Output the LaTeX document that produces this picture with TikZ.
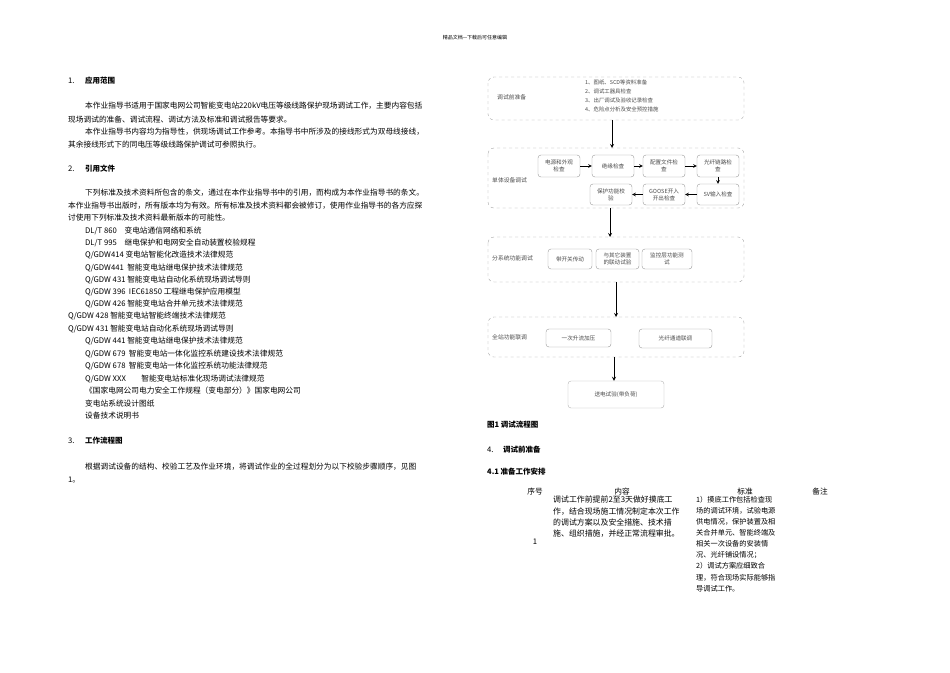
\documentclass[tikz,border=0pt]{standalone}
\usepackage{fontspec}
\setmainfont{Noto Sans CJK SC}
\begin{document}
\begin{tikzpicture}[x=1pt,y=-1pt,
  txt/.style={anchor=west,inner sep=0pt,font=\fontsize{7.7}{9}\selectfont},
  hd/.style={anchor=west,inner sep=0pt,font=\fontsize{7.5}{9}\selectfont\bfseries},
  grp/.style={draw=gray!70,dashed,rounded corners=6pt},
  sub/.style={draw=gray!80,rounded corners=3pt,align=center,inner sep=0pt,font=\fontsize{5.6}{7}\selectfont,text=gray!60!black},
  glab/.style={anchor=west,inner sep=0pt,font=\fontsize{5.8}{7}\selectfont,text=gray!60!black},
  arr/.style={-stealth,thick},
  sarr/.style={-stealth,semithick}]
\useasboundingbox (0,0) rectangle (950,672);
\fill[white] (0,0) rectangle (950,672);
\node[inner sep=0pt,font=\fontsize{5}{6}\selectfont] (hdr) at (475,38) {精品文档---下载后可任意编辑};
% left column
\node[txt] (n1) at (68,81) {1.};
\node[hd] (h1) at (85,81) {应用范围};
\node[txt] (p1a) at (85,106) {本作业指导书适用于国家电网公司智能变电站220kV电压等级线路保护现场调试工作，主要内容包括};
\node[txt] (p1b) at (68,120) {现场调试的准备、调试流程、调试方法及标准和调试报告等要求。};
\node[txt] (p1c) at (85,132) {本作业指导书内容均为指导性，供现场调试工作参考。本指导书中所涉及的接线形式为双母线接线，};
\node[txt] (p1d) at (68,145) {其余接线形式下的同电压等级线路保护调试可参照执行。};
\node[txt] (n2) at (68,169) {2.};
\node[hd] (h2) at (85,169) {引用文件};
\node[txt] (p2a) at (85,193) {下列标准及技术资料所包含的条文，通过在本作业指导书中的引用，而构成为本作业指导书的条文。};
\node[txt] (p2b) at (68,206) {本作业指导书出版时，所有版本均为有效。所有标准及技术资料都会被修订，使用作业指导书的各方应探};
\node[txt] (p2c) at (68,218) {讨使用下列标准及技术资料最新版本的可能性。};
\node[txt] (r1) at (85,231) {DL/T 860\quad 变电站通信网络和系统};
\node[txt] (r2) at (85,243) {DL/T 995\quad 继电保护和电网安全自动装置校验规程};
\node[txt] (r3) at (85,255) {Q/GDW414 变电站智能化改造技术法律规范};
\node[txt] (r4) at (85,268) {Q/GDW441\ \ 智能变电站继电保护技术法律规范};
\node[txt] (r5) at (85,280) {Q/GDW 431 智能变电站自动化系统现场调试导则};
\node[txt] (r6) at (85,292) {Q/GDW 396\ \ IEC61850 工程继电保护应用模型};
\node[txt] (r7) at (85,304) {Q/GDW 426 智能变电站合并单元技术法律规范};
\node[txt] (r8) at (68,316) {Q/GDW 428 智能变电站智能终端技术法律规范};
\node[txt] (r9) at (68,329) {Q/GDW 431 智能变电站自动化系统现场调试导则};
\node[txt] (r10) at (85,341) {Q/GDW 441 智能变电站继电保护技术法律规范};
\node[txt] (r11) at (85,354) {Q/GDW 679\ \ 智能变电站一体化监控系统建设技术法律规范};
\node[txt] (r12) at (85,366) {Q/GDW 678\ \ 智能变电站一体化监控系统功能法律规范};
\node[txt] (r13) at (85,379) {Q/GDW XXX\qquad 智能变电站标准化现场调试法律规范};
\node[txt] (r14) at (85,391) {《国家电网公司电力安全工作规程（变电部分）》国家电网公司};
\node[txt] (r15) at (85,404) {变电站系统设计图纸};
\node[txt] (r16) at (85,416) {设备技术说明书};
\node[txt] (n3) at (68,441) {3.};
\node[hd] (h3) at (85,441) {工作流程图};
\node[txt] (p3a) at (85,467) {根据调试设备的结构、校验工艺及作业环境，将调试作业的全过程划分为以下校验步骤顺序，见图};
\node[txt] (p3b) at (68,480) {1。};
% flowchart
\draw[grp] (488,77) rectangle (744,120);
\coordinate (b1s) at (612,120);
\node[glab] (l1) at (497,97) {调试前准备};
\node[glab,align=left,anchor=north west,font=\fontsize{5.4}{8.9}\selectfont] (l1list) at (585,80) {1、图纸、SCD等资料准备\\2、调试工器具检查\\3、出厂调试及验收记录检查\\4、危险点分析及安全预控措施};
\draw[grp] (488,148) rectangle (744,208);
\coordinate (b2n) at (612,148);
\coordinate (b2s) at (610,208);
\node[glab] (l2) at (492,180) {单体设备调试};
\node[sub,minimum width=42,minimum height=22] (a) at (559,166) {电源和外观\\检查};
\node[sub,minimum width=42,minimum height=22] (b) at (613,166) {绝缘检查};
\node[sub,minimum width=42,minimum height=22] (c) at (664,166) {配置文件检\\查};
\node[sub,minimum width=42,minimum height=22] (d) at (718,166) {光纤链路检\\查};
\node[sub,minimum width=42,minimum height=21] (e) at (718,194.5) {SV输入检查};
\node[sub,minimum width=42,minimum height=21] (f) at (664,194.5) {GOOSE开入\\开出检查};
\node[sub,minimum width=42,minimum height=21] (g) at (611,194.5) {保护功能校\\验};
\draw[sarr] (a) -- (b); \draw[sarr] (b) -- (c); \draw[sarr] (c) -- (d);
\draw[sarr] (d) -- (e); \draw[sarr] (e) -- (f); \draw[sarr] (f) -- (g);
\draw[arr] (b1s) -- (b2n);
\draw[grp] (488,237) rectangle (744,282);
\coordinate (b3n) at (610,237);
\coordinate (b3s) at (616,282);
\node[glab] (l3) at (492,258) {分系统功能调试};
\node[sub,minimum width=44,minimum height=20] (s1) at (570,259) {带开关传动};
\node[sub,minimum width=43,minimum height=20] (s2) at (617.5,259) {与其它装置\\的联动试验};
\node[sub,minimum width=50,minimum height=20] (s3) at (667,259) {监控层功能测\\试};
\draw[arr] (b2s) -- (b3n);
\draw[grp] (488,317) rectangle (744,357);
\coordinate (b4n) at (616,317);
\coordinate (b4s) at (614,357);
\node[glab] (l4) at (492,337) {全站功能联调};
\node[sub,minimum width=65,minimum height=18] (t1) at (578.5,338) {一次升流加压};
\node[sub,minimum width=73,minimum height=19] (t2) at (675.5,338.5) {光纤通道联调};
\draw[arr] (b3s) -- (b4n);
\node[sub,draw=gray!60,minimum width=96,minimum height=27] (fin) at (616,394.5) {送电试验(带负荷)};
\draw[arr] (b4s) -- (fin.north -| b4s);
% right text
\node[hd] (cap) at (487,425) {图1 调试流程图};
\node[txt] (n4) at (487,450) {4.};
\node[hd] (h4) at (503,450) {调试前准备};
\node[hd] (h41) at (487,472) {4.1 准备工作安排};
\node[txt,anchor=center] (th1) at (535,492) {序号};
\node[txt,anchor=center] (th2) at (622,492) {内容};
\node[txt,anchor=center] (th3) at (745,492) {标准};
\node[txt,anchor=center] (th4) at (820,492) {备注};
\node[txt,anchor=north west,align=left,font=\fontsize{7.9}{11.3}\selectfont] (c1) at (553,496) {调试工作前提前2至3天做好摸底工\\作，结合现场施工情况制定本次工作\\的调试方案以及安全措施、技术措\\施、组织措施，并经正常流程审批。};
\node[txt,anchor=north west,align=left,font=\fontsize{7.2}{11.1}\selectfont] (c2) at (696,496) {1）摸底工作包括检查现\\场的调试环境，试验电源\\供电情况，保护装置及相\\关合并单元、智能终端及\\相关一次设备的安装情\\况、光纤铺设情况；\\2）调试方案应细致合\\理，符合现场实际能够指\\导调试工作。};
\node[txt,anchor=center] (c0) at (535,542) {1};
\end{tikzpicture}
\end{document}
